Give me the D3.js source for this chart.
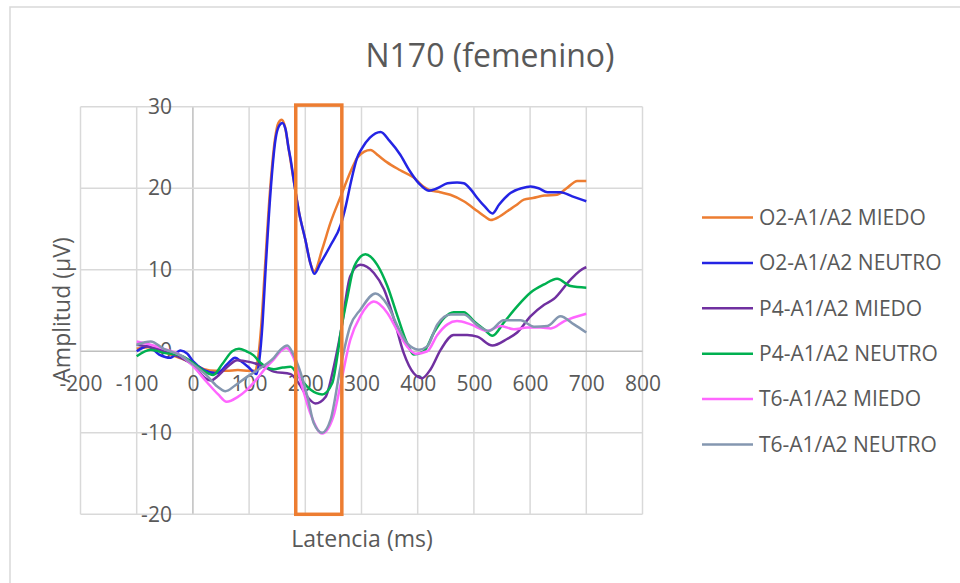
<!DOCTYPE html>
<html>
<head>
<meta charset="utf-8">
<script src="https://cdn.jsdelivr.net/npm/d3@7"></script>
<style>
  body { margin: 0; background: #fff; }
  svg text { font-family: "Segoe UI", "Open Sans", sans-serif; fill: #595959; }
</style>
</head>
<body>
<div id="chart"></div>
<script>
// ERP traces, [latency ms, amplitude µV]
const o2Miedo = [[-100,0.3],[-80,0.5],[-60,0.2],[-40,-0.4],[-20,-0.9],[0,-1.5],[20,-2.2],[40,-2.4],[60,-2.4],[80,-2.3],[100,-2.4],[110,-2.4],[116,-0.8],[122,3.5],[128,10],[137,19.5],[146,26],[152,28],[158,28.4],[164,27.5],[170,25],[180,20.7],[189,17],[200,13.7],[209,10.8],[216,9.8],[230,12.5],[245,15.8],[263,19.0],[281,22.1],[292,23.7],[305,24.5],[316,24.7],[330,24.0],[345,23.2],[369,22.2],[393,21.3],[410,20.2],[420,19.8],[440,19.5],[458,19.2],[482,18.4],[506,17.2],[520,16.5],[530,16.1],[545,16.5],[560,17.2],[575,17.9],[589,18.6],[605,18.8],[625,19.1],[648,19.2],[665,20.0],[684,20.9],[700,20.9]];
const o2Neutro = [[-100,0.0],[-80,0.6],[-60,-0.4],[-40,-0.8],[-22,0.1],[-10,-0.3],[0,-1.2],[20,-2.3],[43,-2.7],[61,-1.6],[75,-0.8],[85,-1.2],[98,-1.9],[109,-2.6],[113,-2.8],[118,-1.2],[124,3.5],[129,9.6],[138,19.4],[147,26],[153,27.6],[159,28.0],[165,27.2],[170,25],[174,23.5],[180,20.7],[189,17],[200,13.7],[209,10.8],[216,9.5],[227,10.8],[245,13.0],[263,15.5],[272,17.8],[281,20.7],[292,23.7],[300,24.8],[315,26.2],[334,26.9],[350,25.8],[369,24.1],[385,22.2],[402,20.6],[420,19.7],[435,20.0],[453,20.6],[470,20.7],[482,20.6],[495,19.8],[506,18.8],[520,17.7],[533,16.9],[545,18.0],[565,19.4],[585,20.0],[601,20.2],[615,20.0],[631,19.5],[654,19.5],[675,19.0],[700,18.4]];
const p4Miedo = [[-100,0.8],[-75,0.5],[-50,0.0],[-25,-0.7],[0,-1.7],[20,-3.2],[32,-3.6],[45,-3.0],[60,-2.0],[79,-1.1],[100,-1.3],[115,-1.6],[130,-2.0],[144,-2.5],[174,-2.8],[188,-3.9],[205,-5.7],[218,-6.4],[236,-5.6],[251,-1.8],[263,2.3],[280,9.2],[298,10.6],[322,9.6],[340,7.6],[358,3.9],[375,-0.2],[393,-2.7],[408,-3.3],[423,-2.2],[441,0.2],[464,2.0],[488,2.0],[506,1.8],[533,0.7],[559,1.5],[577,2.3],[601,4.3],[625,5.7],[642,6.4],[672,8.8],[696,10.2],[700,10.3]];
const p4Neutro = [[-100,-0.6],[-75,0.2],[-52,-0.2],[-22,-0.5],[0,-1.4],[19,-2.4],[36,-2.9],[52,-1.6],[70,0.0],[82,0.3],[95,0.0],[108,-0.5],[120,-1.4],[144,-2.2],[160,-2.0],[174,-1.9],[188,-3.1],[209,-4.7],[230,-5.3],[248,-3.9],[257,-0.6],[263,2.3],[275,6.7],[287,10.4],[307,11.9],[328,10.6],[346,8.0],[364,4.3],[381,1.0],[393,-0.4],[411,0.0],[429,2.3],[447,4.1],[464,4.8],[482,4.8],[500,3.7],[518,2.7],[533,1.9],[553,3.5],[577,5.5],[601,7.2],[625,8.2],[648,8.9],[672,8.0],[700,7.8]];
const t6Miedo = [[-100,1.2],[-75,0.8],[-52,0.3],[-22,-0.5],[0,-1.8],[25,-3.8],[45,-5.3],[60,-6.2],[80,-5.6],[95,-4.8],[115,-3.3],[130,-2.0],[144,-1.0],[156,0.0],[166,0.4],[178,-0.6],[195,-4.5],[210,-7.8],[230,-10.1],[250,-8.0],[263,-4.0],[280,1.4],[298,4.3],[322,6.1],[346,4.7],[364,2.5],[381,0.6],[396,-0.3],[417,0.0],[435,2.0],[453,3.3],[470,3.7],[494,3.3],[524,2.5],[548,3.1],[571,2.7],[595,2.9],[619,2.9],[637,2.8],[661,3.7],[700,4.6]];
const t6Neutro = [[-100,0.8],[-75,1.2],[-52,0.3],[-22,-0.5],[0,-1.6],[25,-3.0],[43,-4.3],[58,-4.9],[75,-4.2],[95,-3.2],[115,-2.3],[130,-1.6],[144,-0.8],[156,0.2],[168,0.7],[178,-0.3],[188,-1.9],[205,-5.9],[215,-8.8],[230,-10.0],[245,-8.4],[263,-1.8],[280,3.1],[298,5.1],[325,7.1],[346,5.7],[364,3.1],[381,1.0],[402,0.2],[417,0.6],[435,3.3],[459,4.5],[482,4.5],[506,3.2],[527,2.5],[553,3.8],[583,3.8],[607,3.0],[631,3.1],[654,4.3],[678,3.3],[700,2.3]];

const seriesNames = ["O2-A1/A2 MIEDO", "O2-A1/A2 NEUTRO", "P4-A1/A2 MIEDO", "P4-A1/A2 NEUTRO", "T6-A1/A2 MIEDO", "T6-A1/A2 NEUTRO"];
const seriesValues = [o2Miedo, o2Neutro, p4Miedo, p4Neutro, t6Miedo, t6Neutro];
const seriesColors = ["#ED7D31", "#2424E4", "#7030A0", "#00B050", "#FF66FF", "#8497B0"];

const xDomain = [-200, 800];
const yDomain = [-20, 30];
// highlighted N170 window (ms) drawn as an orange box
const n170Window = [183, 265];

const width = 960, height = 583;
const plot = { left: 80.5, right: 642.5, top: 106.7, bottom: 514.3 };

const svg = d3.select("#chart").append("svg")
    .attr("width", width)
    .attr("height", height);

// chart area border
svg.append("rect")
    .attr("x", 10).attr("y", 7)
    .attr("width", width + 20).attr("height", height + 20)
    .attr("fill", "#fff")
    .attr("stroke", "#d9d9d9")
    .attr("stroke-width", 1.5);

const x = d3.scaleLinear().domain(xDomain).range([plot.left, plot.right]);
const y = d3.scaleLinear().domain(yDomain).range([plot.bottom, plot.top]);

// gridlines
const grid = svg.append("g").attr("class", "grid");
grid.selectAll("line.v")
    .data(x.ticks(10))
    .enter().append("line")
    .attr("class", "v")
    .attr("x1", d => x(d)).attr("x2", d => x(d))
    .attr("y1", plot.top).attr("y2", plot.bottom)
    .attr("stroke", d => d === 0 ? "#bfbfbf" : "#d9d9d9")
    .attr("stroke-width", 1.5);
grid.selectAll("line.h")
    .data(y.ticks(5))
    .enter().append("line")
    .attr("class", "h")
    .attr("x1", plot.left).attr("x2", plot.right)
    .attr("y1", d => y(d)).attr("y2", d => y(d))
    .attr("stroke", d => d === 0 ? "#bfbfbf" : "#d9d9d9")
    .attr("stroke-width", 1.5);

// axes cross at zero (plain hyphen for negatives, like the original)
const xAxis = svg.append("g")
    .attr("transform", `translate(0,${y(0)})`)
    .call(d3.axisBottom(x).ticks(10).tickSize(0).tickPadding(25).tickFormat(d => String(d)));
const yAxis = svg.append("g")
    .attr("transform", `translate(${x(0)},0)`)
    .call(d3.axisLeft(y).ticks(5).tickSize(0).tickPadding(21).tickFormat(d => String(d)));
[xAxis, yAxis].forEach(g => {
    g.select(".domain").remove();
    g.selectAll("text")
        .style("font-family", '"Segoe UI", "Open Sans", sans-serif')
        .style("font-size", "21px")
        .attr("fill", "#595959");
});

// series lines
const line = d3.line()
    .x(d => x(d[0]))
    .y(d => y(d[1]))
    .curve(d3.curveMonotoneX);

svg.append("g").selectAll("path")
    .data(seriesValues)
    .enter().append("path")
    .attr("d", line)
    .attr("fill", "none")
    .attr("stroke", (d, i) => seriesColors[i])
    .attr("stroke-width", 2.5)
    .attr("stroke-linejoin", "round");

// N170 window box
svg.append("rect")
    .attr("x", x(n170Window[0]))
    .attr("y", y(30.2))
    .attr("width", x(n170Window[1]) - x(n170Window[0]))
    .attr("height", y(yDomain[0]) - y(30.2))
    .attr("fill", "none")
    .attr("stroke", "#ED7D31")
    .attr("stroke-width", 3.5);

// titles
svg.append("text")
    .attr("x", 490).attr("y", 67)
    .attr("text-anchor", "middle")
    .style("font-size", "32px")
    .text("N170 (femenino)");

svg.append("text")
    .attr("x", 362).attr("y", 547)
    .attr("text-anchor", "middle")
    .style("font-size", "23px")
    .text("Latencia (ms)");

svg.append("text")
    .attr("transform", "translate(70,310) rotate(-90)")
    .attr("text-anchor", "middle")
    .style("font-size", "23px")
    .text("Amplitud (µV)");

// legend
const legend = svg.append("g").attr("transform", "translate(702,217.5)");
const items = legend.selectAll("g")
    .data(seriesNames)
    .enter().append("g")
    .attr("transform", (d, i) => `translate(0,${i * 45.4})`);
items.append("line")
    .attr("x1", 0).attr("x2", 51)
    .attr("stroke", (d, i) => seriesColors[i])
    .attr("stroke-width", 2.5);
items.append("text")
    .attr("x", 57).attr("dy", "0.35em")
    .style("font-size", "21px")
    .text(d => d);
</script>
</body>
</html>
